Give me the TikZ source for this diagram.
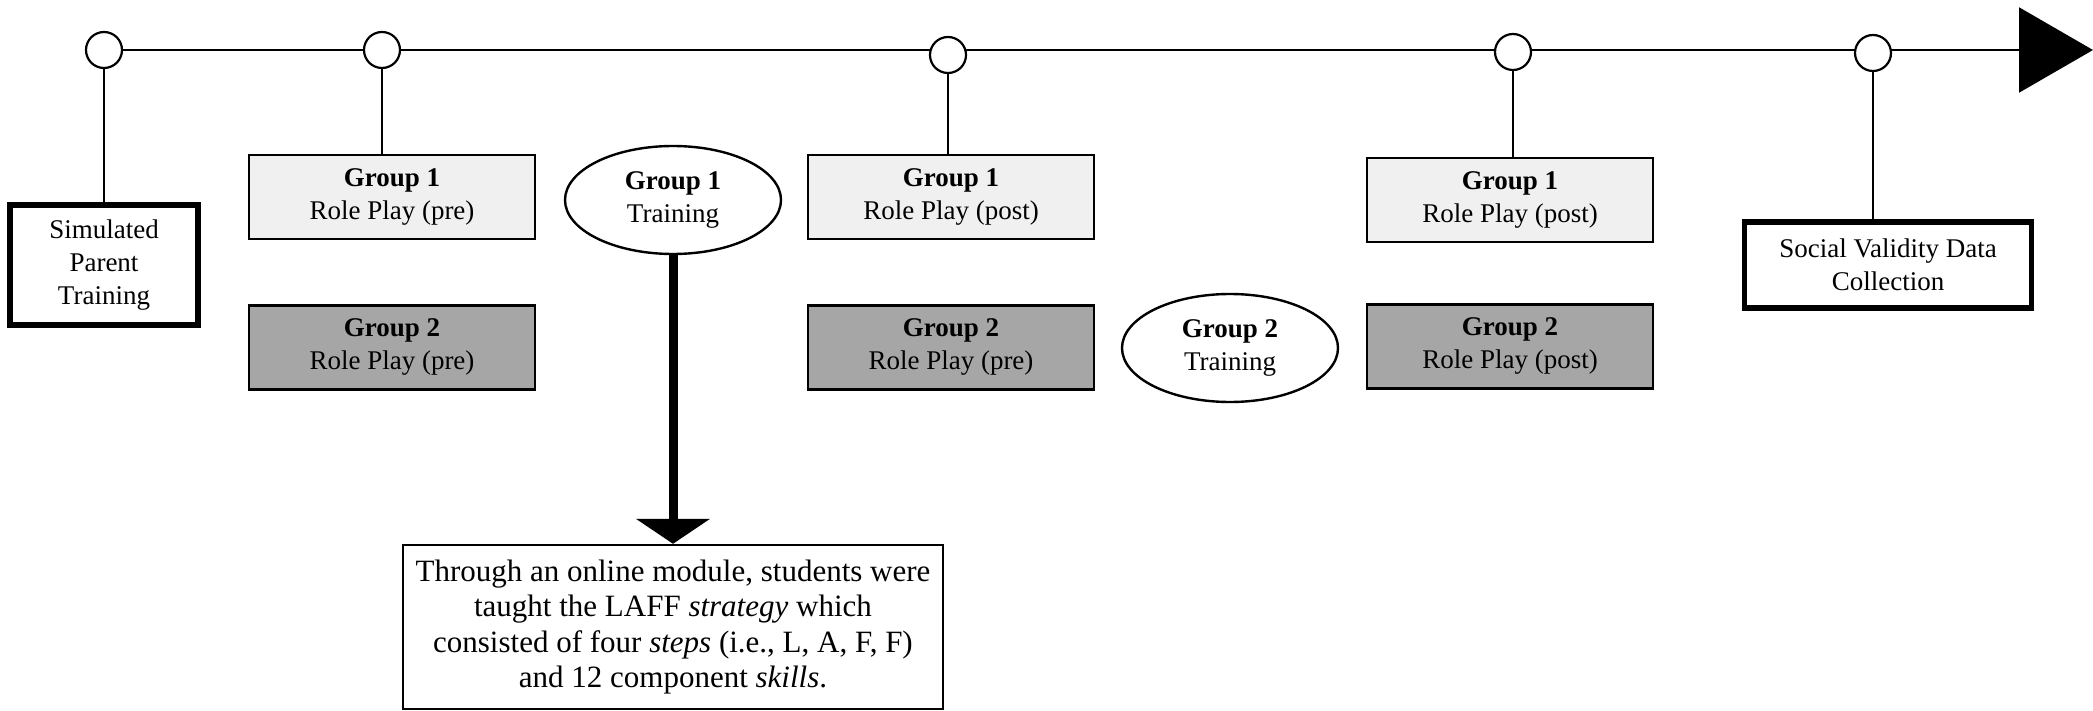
\documentclass[tikz,border=0pt]{standalone}
\usepackage{fontspec}
\setmainfont{Liberation Serif}
\usetikzlibrary{shapes.geometric,arrows.meta,positioning,backgrounds}

\begin{document}
\begin{tikzpicture}[
  x=0.5pt, y=-0.5pt,
  node distance=32pt,
  dot/.style={circle,draw,fill=white,line width=1.1pt,minimum size=18pt,inner sep=0pt},
  rp/.style={rectangle,draw,line width=1.2pt,minimum width=143pt,minimum height=42pt,
    align=center,inner sep=2pt,font=\fontsize{13.5}{16.5}\selectfont},
  grpA/.style={rp,fill=gray!12},
  grpB/.style={rp,fill=black!35},
  train/.style={ellipse,draw,line width=1.2pt,minimum width=108pt,minimum height=54pt,
    align=center,inner sep=0pt,font=\fontsize{13.5}{16.5}\selectfont},
  heavy/.style={rectangle,draw,line width=2.6pt,align=center,inner sep=0pt,
    font=\fontsize{13.5}{16.5}\selectfont},
  tl/.style={line width=1.1pt}
]
\useasboundingbox (0,0) rectangle (2093,711);
% points on the time line
\node[dot] (c1) at (104,50) {};
\node[dot] (c2) at (382,50) {};
\node[dot] (c3) at (948,55) {};
\node[dot] (c4) at (1513,52) {};
\node[dot] (c5) at (1873,53) {};
\coordinate (tend) at (2093,50);
% steps
\node[heavy,minimum width=94pt,minimum height=60pt] (sim) at (104,265)
  {Simulated\\Parent\\Training};
\node[grpA] (g1pre) at (392,197) {\textbf{Group 1}\\Role Play (pre)};
\node[grpB,below=of g1pre] (g2pre) {\textbf{Group 2}\\Role Play (pre)};
\node[train] (tr1) at (673,200) {\textbf{Group 1}\\Training};
\node[grpA] (g1post) at (951,197) {\textbf{Group 1}\\Role Play (post)};
\node[grpB,below=of g1post] (g2mid) {\textbf{Group 2}\\Role Play (pre)};
\node[train] (tr2) at (1230,348) {\textbf{Group 2}\\Training};
\node[grpA] (g1fin) at (1510,200) {\textbf{Group 1}\\Role Play (post)};
\node[grpB,below=30pt of g1fin] (g2fin) {\textbf{Group 2}\\Role Play (post)};
\node[heavy,minimum width=143.5pt,minimum height=43pt] (soc) at (1888,265)
  {Social Validity Data\\Collection};
\node[rectangle,draw,line width=1.2pt,minimum width=270pt,minimum height=82pt,
  align=center,font=\fontsize{15.5}{17.8}\selectfont] (laff) at (673,627)
  {Through an online module, students were\\taught the LAFF \textit{strategy} which\\
   consisted of four \textit{steps} (i.e., L, A, F, F)\\and 12 component \textit{skills}.};
% connectors
\begin{scope}[on background layer]
\draw[tl,-{Triangle[length=37pt,width=42.5pt]}] (c1.center) -- (tend);
\end{scope}
\draw[tl] (c1.south) -- (sim.north);
\draw[tl] (c2.south) -- (c2.south |- g1pre.north);
\draw[tl] (c3.south) -- (c3.south |- g1post.north);
\draw[tl] (c4.south) -- (c4.south |- g1fin.north);
\draw[tl] (c5.south) -- (c5.south |- soc.north);
\draw[line width=4.5pt,-{Triangle[length=12.5pt,width=36.5pt]}] (tr1.south) -- (laff.north);
\end{tikzpicture}
\end{document}
